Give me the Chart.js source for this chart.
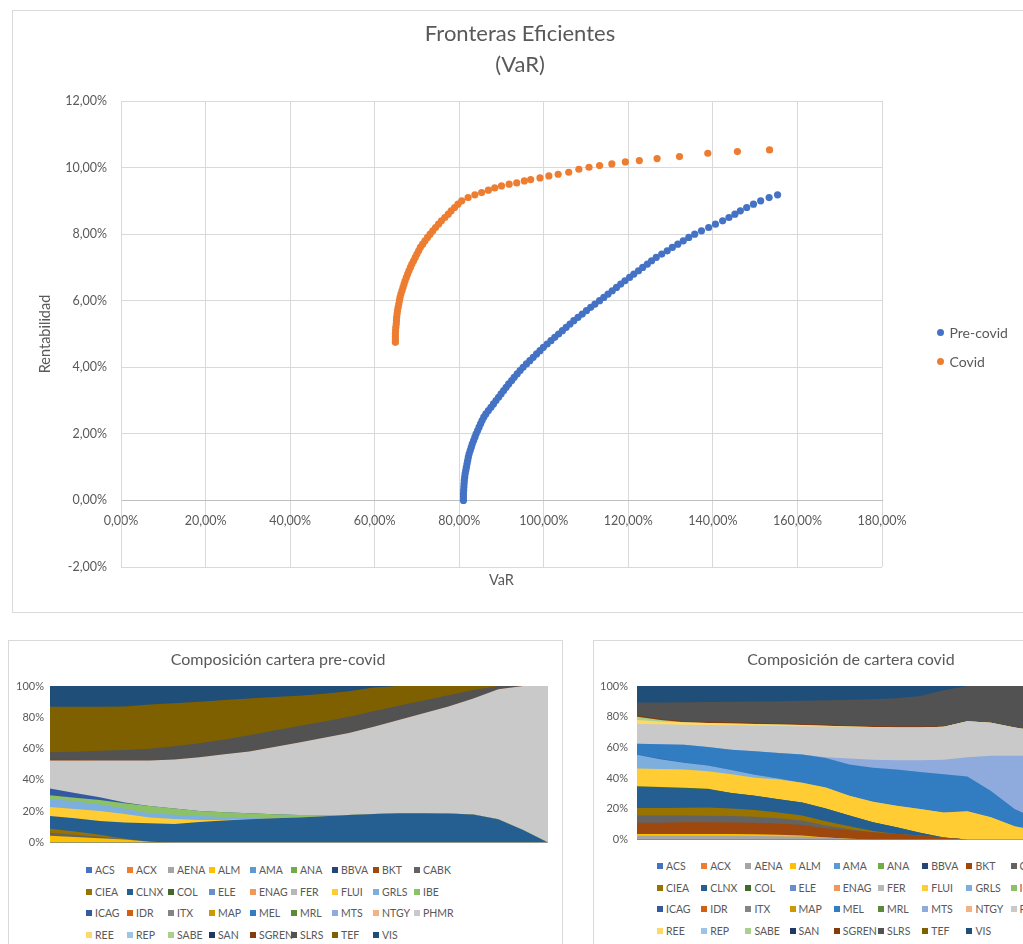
<!DOCTYPE html>
<html lang="es">
<head>
<meta charset="utf-8">
<title>Fronteras eficientes y composición de carteras</title>
<script src="https://cdn.jsdelivr.net/npm/chart.js@4.4.1/dist/chart.umd.min.js"></script>
<style>
  html, body { margin: 0; padding: 0; background: #ffffff; overflow: hidden; }
  body { width: 1023px; height: 944px; position: relative; font-family: Lato, 'Liberation Sans', sans-serif; color: #595959; }
  .marco { position: absolute; border: 1px solid #d9d9d9; box-sizing: border-box; }
  .lienzo { position: absolute; }
  .item { position: absolute; height: 14px; display: flex; align-items: center; white-space: nowrap; color: #595959; }
  .item.peq { font-size: 10.5px; }
  .item.peq .marca { width: 6px; height: 6px; margin-right: 3px; flex: none; }
  .item.gde { font-size: 14px; height: 16px; }
  .item.gde .marca { width: 7px; height: 7px; border-radius: 50%; margin-right: 6px; flex: none; }
</style>
</head>
<body>

<div class="marco" style="left:12px; top:10px; width:1030px; height:603px;"></div>
<div class="lienzo" style="left:12px; top:10px; width:1016px; height:602px;"><canvas id="fronteras"></canvas></div>

<div class="marco" style="left:8px; top:640px; width:555px; height:330px;"></div>
<div class="lienzo" style="left:8px; top:640px; width:554px; height:215px;"><canvas id="carteraPre"></canvas></div>

<div class="marco" style="left:593px; top:640px; width:530px; height:330px;"></div>
<div class="lienzo" style="left:593px; top:640px; width:530px; height:215px;"><canvas id="carteraCovid"></canvas></div>

<script>
// ---- Fronteras eficientes: VaR (%) y rentabilidad (%) de cada cartera ----
const varPre = [
  81.0, 81.0, 81.0, 81.05, 81.1, 81.15, 81.2, 81.3, 81.4, 81.55,
  81.7, 81.85, 82.0, 82.15, 82.35, 82.6, 82.85, 83.1, 83.4, 83.7,
  84.0, 84.35, 84.7, 85.05, 85.4, 85.8, 86.3, 86.9, 87.5, 88.1,
  88.7, 89.3, 89.9, 90.5, 91.1, 91.7, 92.4, 93.0, 93.7, 94.4,
  95.1, 95.9, 96.7, 97.5, 98.3, 99.1, 99.9, 100.8, 101.7, 102.6,
  103.5, 104.4, 105.3, 106.2, 107.1, 108.1, 109.1, 110.1, 111.1, 112.1,
  113.2, 114.2, 115.2, 116.2, 117.2, 118.2, 119.2, 120.3, 121.3, 122.4,
  123.4, 124.5, 125.5, 126.6, 127.9, 129.2, 130.4, 131.7, 133.0, 134.3,
  135.7, 137.3, 139.0, 140.6, 142.3, 143.8, 145.2, 146.5, 148.0, 149.6,
  151.3, 153.3, 155.3
];
const rentPre = [
  0.0, 0.1, 0.2, 0.3, 0.4, 0.5, 0.6, 0.7, 0.8, 0.9,
  1.0, 1.1, 1.2, 1.3, 1.4, 1.5, 1.6, 1.7, 1.8, 1.9,
  2.0, 2.1, 2.2, 2.3, 2.4, 2.5, 2.6, 2.7, 2.8, 2.9,
  3.0, 3.1, 3.2, 3.3, 3.4, 3.5, 3.6, 3.7, 3.8, 3.9,
  4.0, 4.1, 4.2, 4.3, 4.4, 4.5, 4.6, 4.7, 4.8, 4.9,
  5.0, 5.1, 5.2, 5.3, 5.4, 5.5, 5.6, 5.7, 5.8, 5.9,
  6.0, 6.1, 6.2, 6.3, 6.4, 6.5, 6.6, 6.7, 6.8, 6.9,
  7.0, 7.1, 7.2, 7.3, 7.4, 7.5, 7.6, 7.7, 7.8, 7.9,
  8.0, 8.1, 8.2, 8.3, 8.4, 8.5, 8.6, 8.7, 8.8, 8.9,
  9.0, 9.1, 9.18
];
const varCovid = [
  64.9, 64.9, 64.9, 64.9, 64.95, 65.0, 65.1, 65.15, 65.2, 65.3,
  65.4, 65.55, 65.7, 65.85, 66.0, 66.2, 66.45, 66.7, 66.95, 67.2,
  67.5, 67.8, 68.1, 68.45, 68.8, 69.2, 69.6, 70.0, 70.4, 70.8,
  71.35, 71.9, 72.5, 73.1, 73.75, 74.4, 75.1, 75.8, 76.6, 77.4,
  78.1, 78.9, 79.7, 80.6, 82.1, 83.7, 85.3, 86.9, 88.4, 90.0,
  91.8, 93.6, 95.4, 96.9, 99.1, 101.2, 103.4, 105.9, 108.3, 110.7,
  113.2, 116.1, 119.3, 122.6, 126.8, 132.1, 138.8, 145.8, 153.4
];
const rentCovid = [
  4.75, 4.83, 4.91, 5.0, 5.1, 5.2, 5.3, 5.4, 5.5, 5.6,
  5.7, 5.8, 5.9, 6.0, 6.1, 6.2, 6.3, 6.4, 6.5, 6.6,
  6.7, 6.8, 6.9, 7.0, 7.1, 7.2, 7.3, 7.4, 7.5, 7.6,
  7.7, 7.8, 7.9, 8.0, 8.1, 8.2, 8.3, 8.4, 8.5, 8.6,
  8.7, 8.8, 8.9, 9.0, 9.1, 9.18, 9.25, 9.32, 9.39, 9.45,
  9.5, 9.54, 9.6, 9.64, 9.69, 9.75, 9.8, 9.86, 9.95, 10.01,
  10.06, 10.11, 10.17, 10.21, 10.27, 10.33, 10.43, 10.48, 10.53
];
const ticksVaR = [0, 20, 40, 60, 80, 100, 120, 140, 160, 180];
const ticksRent = [-2, 0, 2, 4, 6, 8, 10, 12];

// ---- Composición de las carteras (% de cada valor a lo largo de la frontera) ----
const valores = [
  'ACS', 'ACX', 'AENA', 'ALM', 'AMA', 'ANA', 'BBVA', 'BKT', 'CABK',
  'CIEA', 'CLNX', 'COL', 'ELE', 'ENAG', 'FER', 'FLUI', 'GRLS', 'IBE',
  'ICAG', 'IDR', 'ITX', 'MAP', 'MEL', 'MRL', 'MTS', 'NTGY', 'PHMR',
  'REE', 'REP', 'SABE', 'SAN', 'SGREN', 'SLRS', 'TEF', 'VIS'
];
const carteras = ['1','2','3','4','5','6','7','8','9','10','11','12','13','14','15','16','17','18','19','20','21'];

// pre-covid
const preALM   = [4.2, 3.4, 2.7, 1.8, 0.4, 0, 0, 0, 0, 0, 0, 0, 0, 0, 0, 0, 0, 0, 0, 0, 0];
const preCABK  = [2.0, 1.5, 0.9, 0.2, 0, 0, 0, 0, 0, 0, 0, 0, 0, 0, 0, 0, 0, 0, 0, 0, 0];
const preCIEA  = [2.5, 2.0, 1.3, 0.4, 0, 0, 0, 0, 0, 0, 0, 0, 0, 0, 0, 0, 0, 0, 0, 0, 0];
const preCLNX  = [8.2, 8.6, 8.8, 10.4, 11.8, 11.8, 13.1, 14.0, 14.8, 15.4, 15.9, 16.7, 17.5, 18.2, 18.6, 18.6, 18.4, 17.8, 14.8, 8.0, 0];
const preFLUI  = [5.7, 5.9, 6.4, 5.4, 3.7, 3.2, 1.3, 0.4, 0, 0, 0, 0, 0, 0, 0, 0, 0, 0, 0, 0, 0];
const preGRLS  = [5.3, 4.7, 4.2, 3.3, 2.7, 2.6, 2.5, 1.8, 0.8, 0.2, 0, 0, 0, 0, 0, 0, 0, 0, 0, 0, 0];
const preIBE   = [2.3, 2.5, 2.8, 3.5, 4.7, 4.0, 3.2, 3.1, 3.0, 2.4, 1.6, 0.8, 0, 0, 0, 0, 0, 0, 0, 0, 0];
const preICAG  = [4.3, 3.0, 1.8, 0.5, 0, 0, 0, 0, 0, 0, 0, 0, 0, 0, 0, 0, 0, 0, 0, 0, 0];
const prePHMR  = [17.9, 20.8, 23.5, 26.9, 29.1, 31.4, 34.4, 37.0, 39.5, 43.0, 46.4, 49.4, 52.5, 55.8, 59.6, 63.9, 68.5, 74.2, 83.2, 92.0, 100];
const preSGREN = [0.6, 0.4, 0, 0, 0, 0, 0, 0, 0, 0, 0, 0, 0, 0, 0, 0, 0, 0, 0, 0, 0];
const preSLRS  = [4.7, 5.2, 6.2, 6.6, 7.4, 8.5, 8.9, 9.5, 10.4, 10.5, 10.5, 10.4, 10.3, 9.8, 9.2, 8.3, 7.2, 5.5, 2.0, 0, 0];
const preTEF   = [29.0, 28.7, 28.1, 27.9, 28.4, 27.5, 26.5, 25.2, 23.5, 21.4, 19.3, 17.8, 16.3, 15.2, 12.6, 9.2, 5.9, 2.5, 0, 0, 0];
const preVIS   = [13.3, 13.3, 13.3, 13.1, 11.8, 11.0, 10.1, 9.0, 8.0, 7.1, 6.3, 4.9, 3.4, 1.0, 0, 0, 0, 0, 0, 0, 0];

// covid
const covAENA  = [2.4, 2.4, 2.4, 2.3, 2.3, 2.2, 2.1, 1.9, 1.3, 0.4, 0, 0, 0, 0, 0, 0, 0, 0, 0, 0, 0];
const covALM   = [1.2, 1.2, 1.2, 1.2, 1.2, 1.1, 1.0, 0.6, 0, 0, 0, 0, 0, 0, 0, 0, 0, 0, 0, 0, 0];
const covBKT   = [7.2, 7.3, 7.5, 7.6, 7.5, 7.5, 7.3, 6.9, 5.9, 5.6, 4.7, 3.6, 2.5, 1.0, 0, 0, 0, 0, 0, 0, 0];
const covCABK  = [4.7, 4.6, 4.4, 4.3, 4.2, 4.0, 3.4, 2.9, 1.8, 0.6, 0, 0, 0, 0, 0, 0, 0, 0, 0, 0, 0];
const covCIEA  = [4.9, 5.0, 5.2, 5.4, 5.0, 4.3, 3.8, 3.2, 2.8, 2.0, 0.8, 0, 0, 0, 0, 0, 0, 0, 0, 0, 0];
const covCLNX  = [13.4, 13.0, 12.4, 11.9, 10.1, 9.3, 8.6, 8.6, 8.4, 6.9, 5.7, 4.4, 1.8, 0.3, 0, 0, 0, 0, 0, 0, 0];
const covCOL   = [0.8, 0.7, 0.5, 0.3, 0, 0, 0, 0, 0, 0, 0, 0, 0, 0, 0, 0, 0, 0, 0, 0, 0];
const covFLUI  = [11.6, 11.7, 12.0, 11.5, 12.1, 11.8, 12.9, 12.9, 13.6, 12.9, 13.3, 13.9, 15.5, 16.3, 18.4, 14.4, 8.5, 5.5, 3.5, 2.0, 1.0];
const covGRLS  = [9.0, 6.3, 4.3, 3.6, 2.8, 2.0, 0.6, 0, 0, 0, 0, 0, 0, 0, 0, 0, 0, 0, 0, 0, 0];
const covICAG  = [0, 0.4, 0.3, 0, 0, 0, 0, 0, 0, 0, 0, 0, 0, 0, 0, 0, 0, 0, 0, 0, 0];
const covMEL   = [7.2, 9.4, 11.5, 12.1, 13.3, 15.2, 16.6, 18.3, 19.3, 20.4, 22.2, 23.7, 24.1, 24.8, 22.6, 17.2, 11.3, 7.5, 4.5, 3.0, 2.0];
const covMTS   = [0, 0, 0, 0, 0, 0, 0, 0, 0.4, 4.0, 5.3, 6.0, 7.7, 9.6, 12.5, 23.0, 34.8, 41.6, 46.6, 49.6, 51.6];
const covPHMR  = [12.9, 13.0, 13.1, 14.4, 15.9, 16.8, 17.7, 18.5, 20.1, 20.6, 21.2, 21.4, 21.4, 21.4, 23.5, 21.4, 18.4, 15.9, 14.9, 13.9, 12.9];
const covREE   = [2.5, 1.8, 1.5, 1.3, 1.2, 1.0, 0.9, 0.7, 0.5, 0.2, 0, 0, 0, 0, 0, 0, 0, 0, 0, 0, 0];
const covSABE  = [2.2, 1.0, 0, 0, 0, 0, 0, 0, 0, 0, 0, 0, 0, 0, 0, 0, 0, 0, 0, 0, 0];
const covSGREN = [1.0, 0.8, 0.8, 0.8, 0.8, 0.8, 0.8, 0.8, 0.8, 0.8, 0.8, 0.8, 0.8, 0.4, 0, 0, 0, 0, 0, 0, 0];
const covSLRS  = [8.2, 10.7, 12.3, 12.8, 13.3, 13.9, 14.4, 15.1, 15.8, 16.6, 17.4, 18.2, 19.7, 23.5, 23.0, 24.0, 27.0, 29.5, 30.5, 31.5, 32.5];
const covVIS   = [10.8, 10.7, 10.6, 10.5, 10.3, 10.1, 9.9, 9.6, 9.3, 9.0, 8.6, 8.0, 6.5, 2.7, 0, 0, 0, 0, 0, 0, 0];

// ---- Estilo ----
const FUENTE = "Lato, 'Liberation Sans', sans-serif";
const GRIS_TEXTO = '#595959';
const GRIS_REJILLA = '#d9d9d9';
const paleta = [
  '#4472C4', '#ED7D31', '#A5A5A5', '#FFC000', '#5B9BD5', '#70AD47', '#264478', '#9E480E', '#636363',
  '#997300', '#255E91', '#43682B', '#698ED0', '#F1975A', '#B7B7B7', '#FFCD33', '#7CAFDD', '#8CC168',
  '#335AA1', '#D26012', '#848484', '#CC9A00', '#327DC2', '#5A8A39', '#8FAADC', '#F4B183', '#C9C9C9',
  '#FFD966', '#9DC3E6', '#A9D18E', '#203864', '#843C0C', '#525252', '#7F6000', '#1F4E79'
];

Chart.defaults.font.family = FUENTE;
Chart.defaults.color = GRIS_TEXTO;

const fmtPct2 = v => v.toFixed(2).replace('.', ',') + '%';

// ---- Gráfico de dispersión: fronteras eficientes ----
const puntosPre = varPre.map((v, i) => ({ x: v, y: rentPre[i] }));
const puntosCovid = varCovid.map((v, i) => ({ x: v, y: rentCovid[i] }));

const fronteras = new Chart(document.getElementById('fronteras'), {
  type: 'scatter',
  data: {
    datasets: [
      { label: 'Pre-covid', data: puntosPre, backgroundColor: '#4472C4', borderWidth: 0, pointRadius: 3.6 },
      { label: 'Covid', data: puntosCovid, backgroundColor: '#ED7D31', borderWidth: 0, pointRadius: 3.6 }
    ]
  },
  options: {
    responsive: true,
    maintainAspectRatio: false,
    animation: false,
    events: [],
    layout: { padding: { left: 0, right: 0, top: 0, bottom: 23.3 } },
    plugins: {
      legend: { display: false },
      tooltip: { enabled: false },
      title: {
        display: true,
        text: ['Fronteras Eficientes', '(VaR)'],
        color: GRIS_TEXTO,
        font: { family: FUENTE, size: 22, weight: 'normal', lineHeight: 31 / 22 },
        padding: { top: 8, bottom: 21 }
      }
    },
    scales: {
      x: {
        type: 'linear',
        position: { y: 0 },
        min: ticksVaR[0],
        max: ticksVaR[ticksVaR.length - 1],
        afterBuildTicks: s => { s.ticks = ticksVaR.map(v => ({ value: v })); },
        ticks: { padding: 13, color: GRIS_TEXTO, font: { size: 12.5 }, callback: fmtPct2, maxRotation: 0 },
        grid: { color: GRIS_REJILLA, drawTicks: false },
        border: { color: '#bfbfbf' }
      },
      y: {
        type: 'linear',
        min: ticksRent[0],
        max: ticksRent[ticksRent.length - 1],
        afterBuildTicks: s => { s.ticks = ticksRent.map(v => ({ value: v })); },
        ticks: { padding: 14, color: GRIS_TEXTO, font: { size: 12.5 }, callback: fmtPct2 },
        grid: { color: GRIS_REJILLA, drawTicks: false },
        border: { color: GRIS_REJILLA },
        title: { display: true, text: 'Rentabilidad', color: GRIS_TEXTO, font: { size: 14.5, lineHeight: 1.2 }, padding: { top: 24.3, bottom: 0 } },
        afterFit: s => { s.width = 109; }
      },
      eqVaR: {
        type: 'linear',
        position: 'bottom',
        ticks: { display: false },
        grid: { display: false, drawTicks: false },
        border: { display: false },
        title: { display: true, text: 'VaR', color: GRIS_TEXTO, font: { size: 14.5, lineHeight: 1.2 }, padding: { top: 4.3, bottom: 0 } }
      },
      margenDer: {
        type: 'linear',
        position: 'right',
        ticks: { display: false },
        grid: { display: false, drawTicks: false },
        border: { display: false },
        afterFit: s => { s.width = 146; }
      }
    }
  }
});

// ---- Áreas apiladas al 100 %: composición de las carteras ----
function conjuntos(series) {
  return valores.map((v, i) => ({
    label: v,
    data: series[v] || [],
    backgroundColor: paleta[i],
    borderWidth: 0,
    pointRadius: 0,
    fill: 'origin',
    tension: 0
  }));
}

function opcionesComposicion(titulo, anchoEje, sepEtiquetas) {
  return {
    responsive: true,
    maintainAspectRatio: false,
    animation: false,
    events: [],
    layout: { padding: { left: 0, right: 14, top: 0, bottom: 12 } },
    plugins: {
      legend: { display: false },
      tooltip: { enabled: false },
      title: {
        display: true,
        text: titulo,
        color: GRIS_TEXTO,
        font: { family: FUENTE, size: 16, weight: 'normal', lineHeight: 1.2 },
        padding: { top: 10.4, bottom: 16.4 }
      }
    },
    scales: {
      x: { display: false, offset: false },
      y: {
        stacked: true,
        min: 0,
        max: 100,
        ticks: { stepSize: 20, padding: sepEtiquetas, color: GRIS_TEXTO, font: { size: 11 }, callback: v => v + '%' },
        grid: { color: GRIS_REJILLA, drawTicks: false },
        border: { display: false },
        afterFit: s => { s.width = anchoEje; }
      }
    }
  };
}

const seriesPre = {
  ALM: preALM, CABK: preCABK, CIEA: preCIEA, CLNX: preCLNX, FLUI: preFLUI, GRLS: preGRLS,
  IBE: preIBE, ICAG: preICAG, PHMR: prePHMR, SGREN: preSGREN, SLRS: preSLRS, TEF: preTEF, VIS: preVIS
};
const seriesCovid = {
  AENA: covAENA, ALM: covALM, BKT: covBKT, CABK: covCABK, CIEA: covCIEA, CLNX: covCLNX, COL: covCOL,
  FLUI: covFLUI, GRLS: covGRLS, ICAG: covICAG, MEL: covMEL, MTS: covMTS, PHMR: covPHMR, REE: covREE,
  SABE: covSABE, SGREN: covSGREN, SLRS: covSLRS, VIS: covVIS
};

const carteraPre = new Chart(document.getElementById('carteraPre'), {
  type: 'line',
  data: { labels: carteras, datasets: conjuntos(seriesPre) },
  options: opcionesComposicion('Composición cartera pre-covid', 42, 6)
});

const carteraCovid = new Chart(document.getElementById('carteraCovid'), {
  type: 'line',
  data: { labels: carteras, datasets: conjuntos(seriesCovid) },
  options: opcionesComposicion('Composición de cartera covid', 44, 9)
});

// ---- Leyendas ----
function leyenda(chart, conf) {
  chart.data.datasets.forEach((d, i) => {
    const col = i % conf.columnas;
    const fila = Math.floor(i / conf.columnas);
    const el = document.createElement('div');
    el.className = 'item ' + conf.clase;
    el.style.left = (conf.x + col * conf.dx) + 'px';
    el.style.top = (conf.y + fila * conf.dy - conf.alto / 2) + 'px';
    const marca = document.createElement('span');
    marca.className = 'marca';
    marca.style.background = d.backgroundColor;
    const texto = document.createElement('span');
    texto.textContent = d.label;
    el.append(marca, texto);
    document.body.append(el);
  });
}

leyenda(fronteras, { columnas: 1, x: 936.5, y: 332, dx: 0, dy: 29, alto: 16, clase: 'gde' });
leyenda(carteraPre, { columnas: 9, x: 86, y: 870, dx: 41, dy: 21.7, alto: 14, clase: 'peq' });
leyenda(carteraCovid, { columnas: 9, x: 657, y: 866, dx: 44.2, dy: 21.6, alto: 14, clase: 'peq' });
</script>
</body>
</html>
